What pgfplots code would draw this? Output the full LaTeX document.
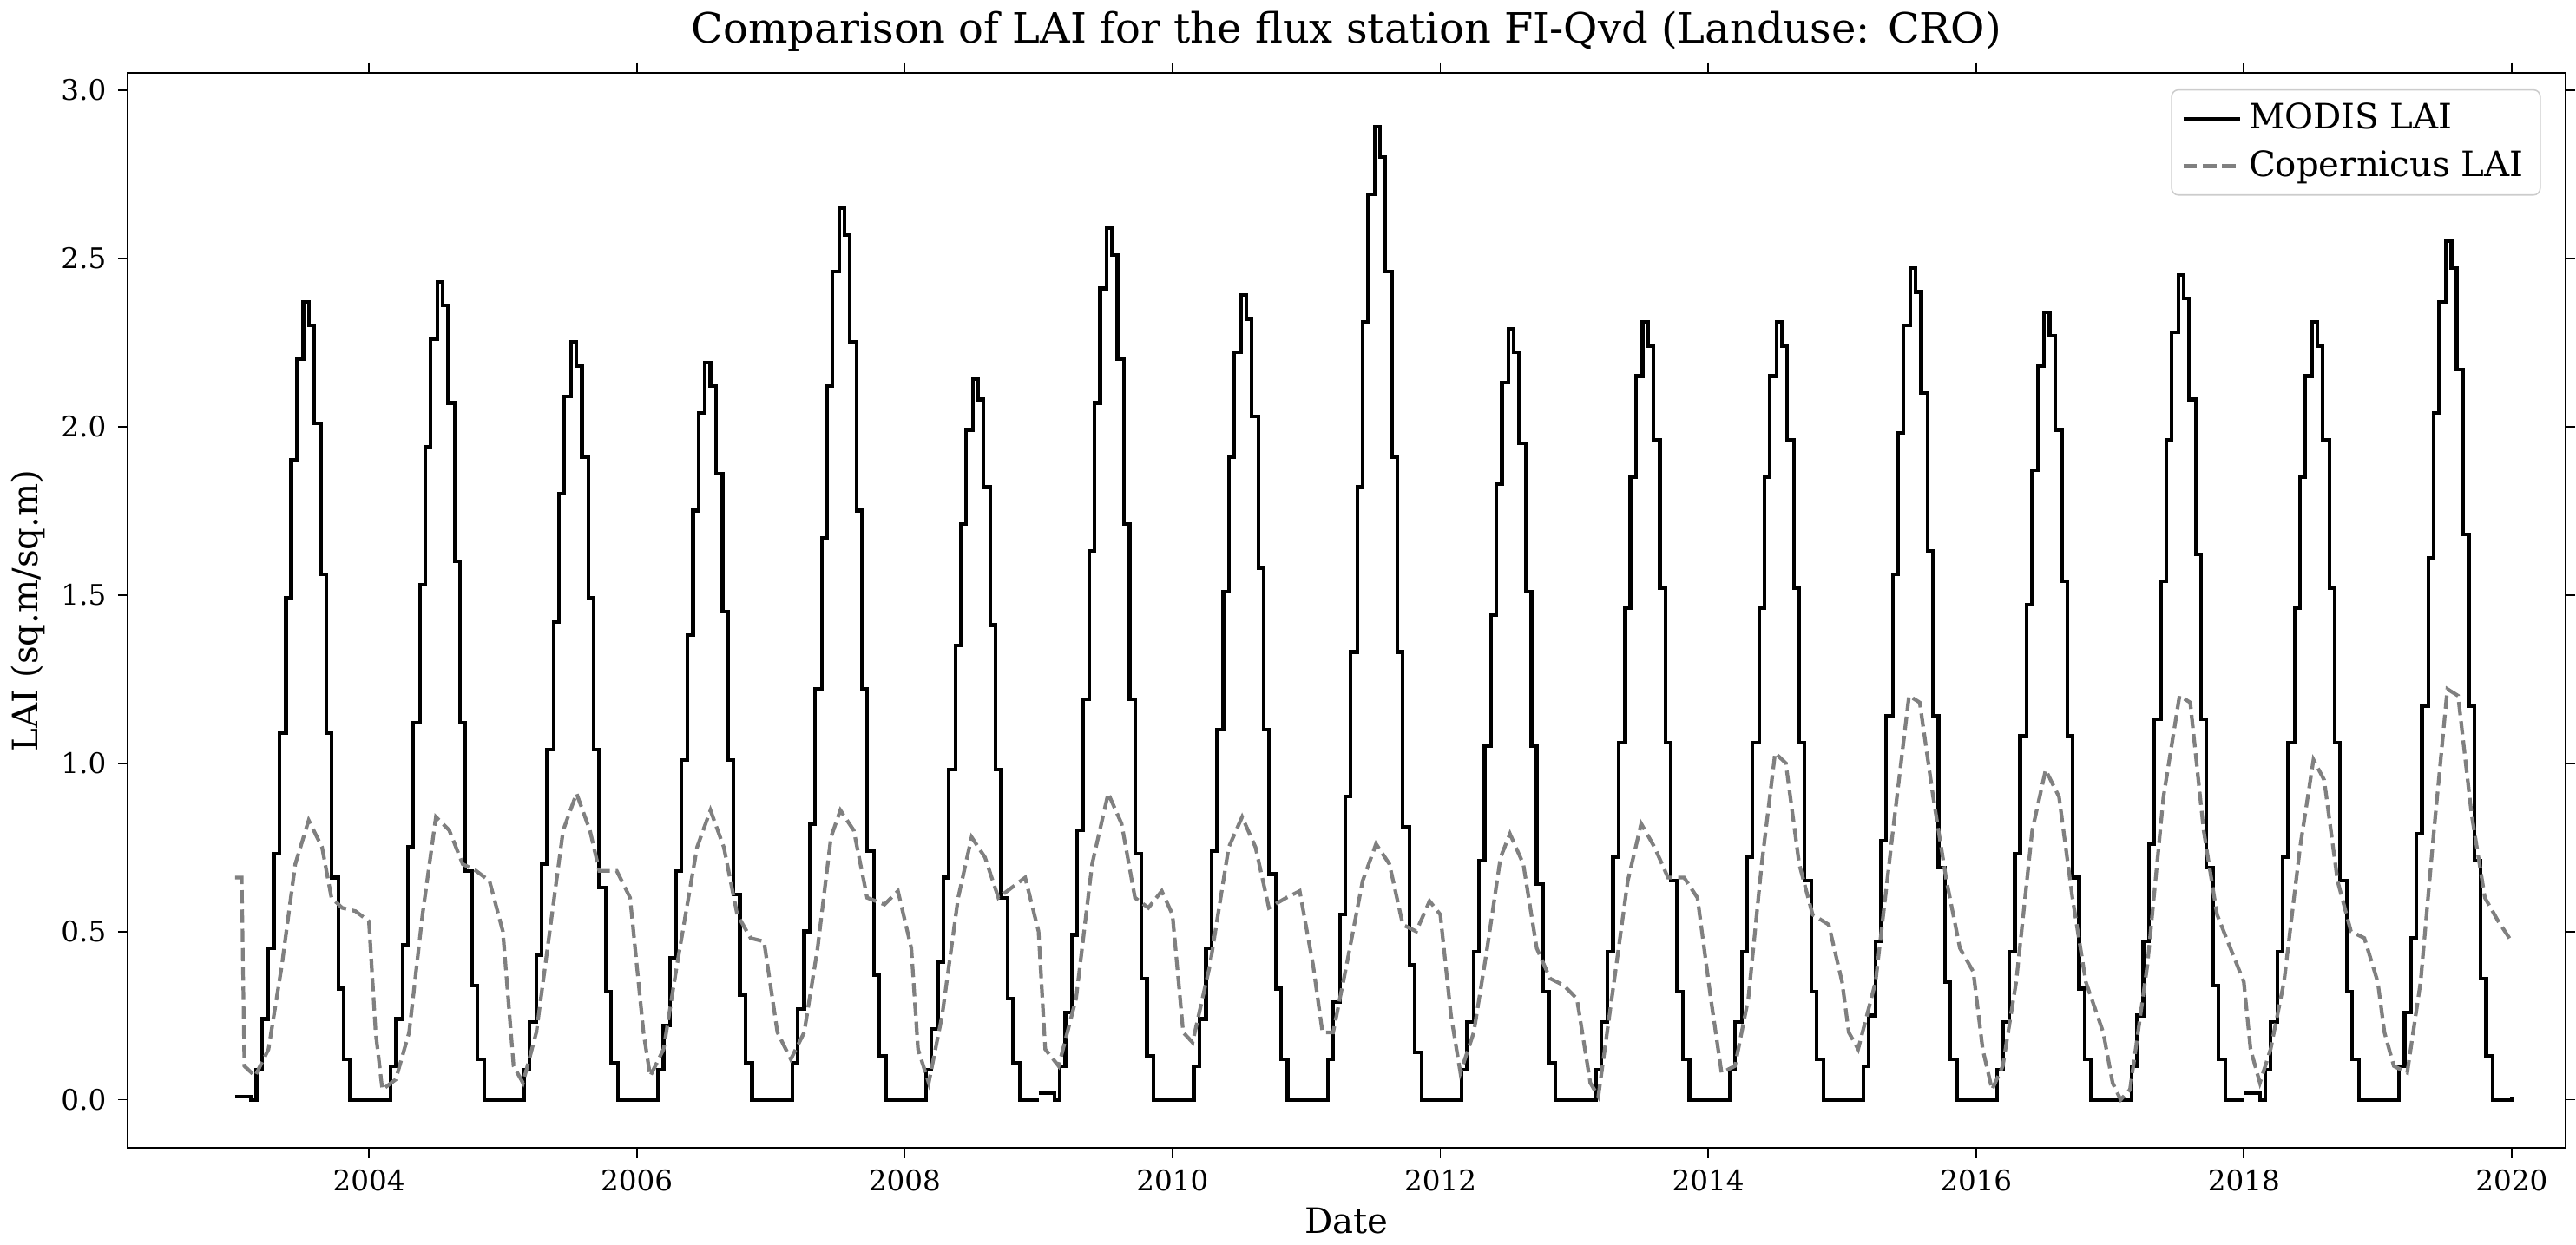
\documentclass[border=0pt]{standalone}
\usepackage{pgfplots}
\usepackage{pgfplotstable}
\pgfplotsset{compat=1.18}
\usepackage{fontspec}
\setmainfont{DejaVu Serif}
\pgfplotstableread{
off  y2003 y2004 y2005 y2006 y2007 y2008 y2009 y2010 y2011 y2012 y2013 y2014 y2015 y2016 y2017 y2018 y2019
0.00 0.01 0 0 0 0 0 0.02 0 0 0 0 0 0 0 0 0.02 0
0.12 0 0 0 0 0 0 0 0 0 0 0 0 0 0 0 0 0
0.16 .09 .10 .09 .09 .11 .09 .10 .10 .12 .09 .09 .09 .10 .09 .10 .09 .10
0.20 .24 .24 .23 .22 .27 .21 .26 .24 .29 .23 .23 .23 .25 .23 .25 .23 .26
0.25 .45 .46 .43 .42 .50 .41 .49 .45 .55 .44 .44 .44 .47 .44 .47 .44 .48
0.29 .73 .75 .70 .68 .82 .66 .80 .74 .90 .71 .72 .72 .77 .73 .76 .72 .79
0.33 1.09 1.12 1.04 1.01 1.22 .98 1.19 1.10 1.33 1.05 1.06 1.06 1.14 1.08 1.13 1.06 1.17
0.38 1.49 1.53 1.42 1.38 1.67 1.35 1.63 1.51 1.82 1.44 1.46 1.46 1.56 1.47 1.54 1.46 1.61
0.42 1.90 1.94 1.80 1.75 2.12 1.71 2.07 1.91 2.31 1.83 1.85 1.85 1.98 1.87 1.96 1.85 2.04
0.46 2.20 2.26 2.09 2.04 2.46 1.99 2.41 2.22 2.69 2.13 2.15 2.15 2.30 2.18 2.28 2.15 2.37
0.51 2.37 2.43 2.25 2.19 2.65 2.14 2.59 2.39 2.89 2.29 2.31 2.31 2.47 2.34 2.45 2.31 2.55
0.55 2.30 2.36 2.18 2.12 2.57 2.08 2.51 2.32 2.80 2.22 2.24 2.24 2.40 2.27 2.38 2.24 2.47
0.59 2.01 2.07 1.91 1.86 2.25 1.82 2.20 2.03 2.46 1.95 1.96 1.96 2.10 1.99 2.08 1.96 2.17
0.64 1.56 1.60 1.49 1.45 1.75 1.41 1.71 1.58 1.91 1.51 1.52 1.52 1.63 1.54 1.62 1.52 1.68
0.68 1.09 1.12 1.04 1.01 1.22 .98 1.19 1.10 1.33 1.05 1.06 1.06 1.14 1.08 1.13 1.06 1.17
0.72 .66 .68 .63 .61 .74 .60 .73 .67 .81 .64 .65 .65 .69 .66 .69 .65 .71
0.77 .33 .34 .32 .31 .37 .30 .36 .33 .40 .32 .32 .32 .35 .33 .34 .32 .36
0.81 .12 .12 .11 .11 .13 .11 .13 .12 .14 .11 .12 .12 .12 .12 .12 .12 .13
0.86 0 0 0 0 0 0 0 0 0 0 0 0 0 0 0 0 0
1.00 0 0 0 0 0 0 0 0 0 0 0 0 0 0 0 0 0.01
}\modis
\begin{document}
\begin{tikzpicture}
\begin{axis}[
  scale only axis, width=732pt, height=323pt,
  xmin=2002.2, xmax=2020.4, ymin=-0.144, ymax=3.05,
  xtick={2004,2006,...,2020}, ytick={0,0.5,...,3},
  /pgf/number format/assume math mode=true,
  xticklabel style={/pgf/number format/1000 sep={}, font=\fontsize{8.5}{10}\selectfont},
  yticklabel style={/pgf/number format/fixed, /pgf/number format/fixed zerofill, /pgf/number format/precision=1, font=\fontsize{8.5}{10}\selectfont},
  tick align=outside, tick style={black, line width=0.5pt}, major tick length=3pt,
  axis line style={line width=0.5pt},
  title={Comparison of LAI for the flux station FI-Qvd (Landuse: CRO)},
  title style={font=\fontsize{12.5}{15}\selectfont, yshift=-3pt},
  xlabel={Date}, ylabel={LAI (sq.m/sq.m)},
  xlabel style={yshift=2pt}, ylabel style={yshift=-2pt},
  label style={font=\fontsize{10.5}{12}\selectfont},
  legend style={at={(0.99,0.985)}, anchor=north east, font=\fontsize{10.5}{12}\selectfont, draw=black!20, rounded corners=2pt, row sep=1pt},
  legend cell align=left,
]
\addlegendimage{black, line width=1.1pt}
\addlegendentry{MODIS LAI}
\addlegendimage{gray, line width=1.1pt, dash pattern=on 4pt off 1.8pt}
\addlegendentry{Copernicus LAI}
\pgfplotsinvokeforeach{2003,...,2019}{
  \addplot[black, line width=1.1pt, const plot, forget plot] table[x expr=\thisrow{off}+#1, y=y#1] {\modis};
}
\addplot[gray, line width=1.1pt, dash pattern=on 4pt off 1.8pt, forget plot] coordinates {
(2003.0,0.66)(2003.05,0.66)(2003.07,0.1)(2003.15,0.07)(2003.25,0.15)(2003.35,0.4)(2003.45,0.7)(2003.55,0.83)(2003.65,0.75)(2003.72,0.6)(2003.8,0.57)(2003.9,0.56)
(2004.0,0.53)(2004.05,0.2)(2004.1,0.03)(2004.2,0.06)(2004.3,0.2)(2004.4,0.55)(2004.5,0.84)(2004.6,0.8)(2004.7,0.7)(2004.8,0.68)(2004.9,0.65)
(2005.0,0.5)(2005.08,0.1)(2005.15,0.05)(2005.25,0.2)(2005.35,0.5)(2005.45,0.8)(2005.55,0.91)(2005.65,0.8)(2005.72,0.68)(2005.85,0.68)(2005.95,0.6)
(2006.05,0.2)(2006.1,0.07)(2006.2,0.15)(2006.3,0.4)(2006.45,0.75)(2006.55,0.86)(2006.65,0.75)(2006.75,0.55)(2006.85,0.48)(2006.95,0.47)
(2007.05,0.2)(2007.15,0.12)(2007.25,0.2)(2007.35,0.45)(2007.45,0.78)(2007.52,0.86)(2007.62,0.8)(2007.72,0.6)(2007.85,0.58)(2007.95,0.62)
(2008.05,0.45)(2008.1,0.15)(2008.18,0.05)(2008.28,0.25)(2008.4,0.6)(2008.5,0.78)(2008.6,0.72)(2008.7,0.6)(2008.8,0.63)(2008.9,0.66)
(2009.0,0.5)(2009.05,0.15)(2009.15,0.1)(2009.28,0.3)(2009.4,0.7)(2009.52,0.91)(2009.62,0.82)(2009.72,0.6)(2009.82,0.57)(2009.92,0.62)
(2010.0,0.55)(2010.08,0.2)(2010.15,0.17)(2010.28,0.4)(2010.42,0.75)(2010.52,0.84)(2010.62,0.75)(2010.72,0.57)(2010.85,0.6)(2010.95,0.62)
(2011.05,0.4)(2011.12,0.2)(2011.2,0.2)(2011.3,0.4)(2011.42,0.65)(2011.52,0.76)(2011.62,0.7)(2011.72,0.52)(2011.82,0.5)(2011.92,0.59)
(2012.0,0.55)(2012.08,0.25)(2012.15,0.08)(2012.25,0.2)(2012.35,0.45)(2012.45,0.72)(2012.52,0.79)(2012.62,0.7)(2012.72,0.45)(2012.82,0.36)(2012.92,0.34)
(2013.02,0.3)(2013.12,0.05)(2013.18,0.01)(2013.28,0.3)(2013.4,0.65)(2013.5,0.82)(2013.6,0.75)(2013.7,0.66)(2013.82,0.66)(2013.92,0.6)
(2014.02,0.3)(2014.1,0.08)(2014.2,0.1)(2014.3,0.3)(2014.4,0.7)(2014.5,1.03)(2014.58,1.0)(2014.68,0.7)(2014.78,0.55)(2014.9,0.52)
(2015.0,0.35)(2015.05,0.2)(2015.12,0.15)(2015.25,0.35)(2015.38,0.8)(2015.5,1.2)(2015.58,1.18)(2015.68,0.9)(2015.78,0.65)(2015.88,0.45)(2015.98,0.38)
(2016.05,0.15)(2016.12,0.03)(2016.2,0.1)(2016.3,0.35)(2016.42,0.8)(2016.52,0.98)(2016.62,0.9)(2016.72,0.6)(2016.82,0.35)(2016.95,0.2)
(2017.02,0.05)(2017.08,0.0)(2017.15,0.03)(2017.28,0.4)(2017.4,0.9)(2017.52,1.2)(2017.6,1.18)(2017.7,0.8)(2017.8,0.55)(2017.9,0.45)
(2018.0,0.35)(2018.05,0.15)(2018.12,0.05)(2018.2,0.15)(2018.3,0.35)(2018.42,0.75)(2018.52,1.01)(2018.6,0.95)(2018.7,0.65)(2018.8,0.5)(2018.9,0.48)
(2019.0,0.35)(2019.05,0.2)(2019.12,0.1)(2019.22,0.08)(2019.32,0.35)(2019.42,0.8)(2019.52,1.22)(2019.6,1.2)(2019.7,0.85)(2019.8,0.6)(2019.9,0.53)(2020.0,0.47)
};
\end{axis}
\end{tikzpicture}
\end{document}
